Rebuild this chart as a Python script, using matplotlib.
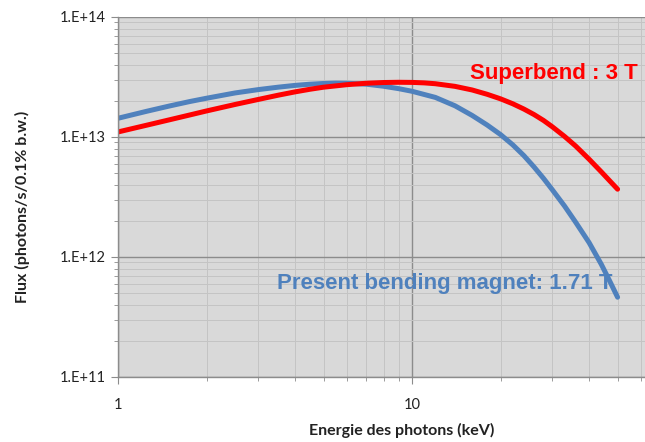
import matplotlib
matplotlib.use("Agg")
import matplotlib.pyplot as plt
import numpy as np
from matplotlib.ticker import LogLocator, FixedLocator, FixedFormatter, NullFormatter

# Photon energy (keV) and log10 of flux
energy_present = [1, 1.25, 1.5, 1.75, 2, 2.5, 3, 3.5, 4, 4.5, 5, 5.5, 6, 7, 8, 9, 10,
                  12, 14, 16, 18, 20, 22, 24, 26, 28, 30, 33, 36, 40, 44, 47, 50]
log_flux_present = [13.156, 13.214, 13.259, 13.295, 13.323, 13.367, 13.395, 13.415, 13.43,
                    13.44, 13.446, 13.449, 13.448, 13.44, 13.423, 13.403, 13.381,
                    13.33, 13.26, 13.18, 13.10, 13.02, 12.935, 12.845, 12.75, 12.655,
                    12.56, 12.425, 12.29, 12.12, 11.94, 11.80, 11.665]
energy_superbend = [1, 1.25, 1.5, 1.75, 2, 2.5, 3, 3.5, 4, 4.5, 5, 6, 7, 8, 9, 10, 11,
                    12, 14, 16, 18, 20, 22, 24, 26, 28, 30, 33, 36, 40, 44, 47, 50]
log_flux_superbend = [13.042, 13.098, 13.144, 13.183, 13.217, 13.271, 13.313, 13.348,
                      13.376, 13.398, 13.415, 13.436, 13.448, 13.454, 13.456, 13.455,
                      13.451, 13.444, 13.422, 13.392, 13.356, 13.318, 13.277, 13.233,
                      13.187, 13.138, 13.085, 13.005, 12.925, 12.815, 12.71, 12.635,
                      12.565]
label_superbend = "Superbend : 3 T"
label_present = "Present bending magnet: 1.71 T"
x_ticks = [1, 10]
x_ticklabels = ["1", "10"]
y_ticks = [1e11, 1e12, 1e13, 1e14]
y_ticklabels = ["1.E+11", "1.E+12", "1.E+13", "1.E+14"]

W, H = 645, 442
fig = plt.figure(figsize=(W / 100, H / 100), dpi=100)
fig.patch.set_facecolor("white")
ax = fig.add_axes([118 / W, 1 - 377 / H, (W - 118) / W + 0.01, (377 - 17) / H])
ax.set_facecolor("#d9d9d9")

ax.set_xscale("log")
ax.set_yscale("log")
ax.set_xlim(1, 10 ** ((W + 6 - 118) / 293.8))
ax.set_ylim(1e11, 1e14)

ax.xaxis.set_major_locator(FixedLocator(x_ticks))
ax.xaxis.set_major_formatter(FixedFormatter(x_ticklabels))
ax.xaxis.set_minor_locator(LogLocator(base=10, subs=range(2, 10)))
ax.xaxis.set_minor_formatter(NullFormatter())
ax.yaxis.set_major_locator(FixedLocator(y_ticks))
ax.yaxis.set_major_formatter(FixedFormatter(y_ticklabels))
ax.yaxis.set_minor_locator(LogLocator(base=10, subs=range(2, 10)))
ax.yaxis.set_minor_formatter(NullFormatter())

ax.grid(True, which="major", color="#8c8c8c", linewidth=1.0)
ax.grid(True, which="minor", color="#c4c4c4", linewidth=0.7)
ax.set_axisbelow(True)

for s in ["top", "right"]:
    ax.spines[s].set_visible(False)
for s in ["left", "bottom"]:
    ax.spines[s].set_color("#8c8c8c")
    ax.spines[s].set_linewidth(1.0)

ax.tick_params(which="both", direction="out", color="#8c8c8c", labelcolor="#222222",
               labelsize=10.5)
ax.tick_params(which="major", length=5)
ax.tick_params(which="minor", length=3)
ax.tick_params(axis="x", pad=10)
for lbl in ax.get_xticklabels() + ax.get_yticklabels():
    lbl.set_fontfamily("Lato")

ax.plot(energy_present, 10 ** np.array(log_flux_present), color="#4f81bd",
        linewidth=3.6, solid_capstyle="round", solid_joinstyle="round")
ax.plot(energy_superbend, 10 ** np.array(log_flux_superbend), color="#ff0000",
        linewidth=3.6, solid_capstyle="round", solid_joinstyle="round")

fig.text(470 / W, 1 - 73 / H, label_superbend, color="#ff0000", fontsize=16,
         fontweight="bold", family="Liberation Sans", ha="left", va="center")
fig.text(277 / W, 1 - 283 / H, label_present, color="#4f81bd", fontsize=16,
         fontweight="bold", family="Liberation Sans", ha="left", va="center")

fig.text(402 / W, 1 - 430 / H, "Energie des photons (keV)", fontsize=11.5,
         fontweight="bold", family="Lato", color="#222222", ha="center", va="center")
fig.text(22 / W, 1 - 207 / H, "Flux (photons/s/0.1% b.w.)", fontsize=11.5,
         fontweight="bold", family="Lato", color="#222222", ha="center", va="center",
         rotation=90)

fig.savefig("out.png", dpi=100, facecolor="white")
